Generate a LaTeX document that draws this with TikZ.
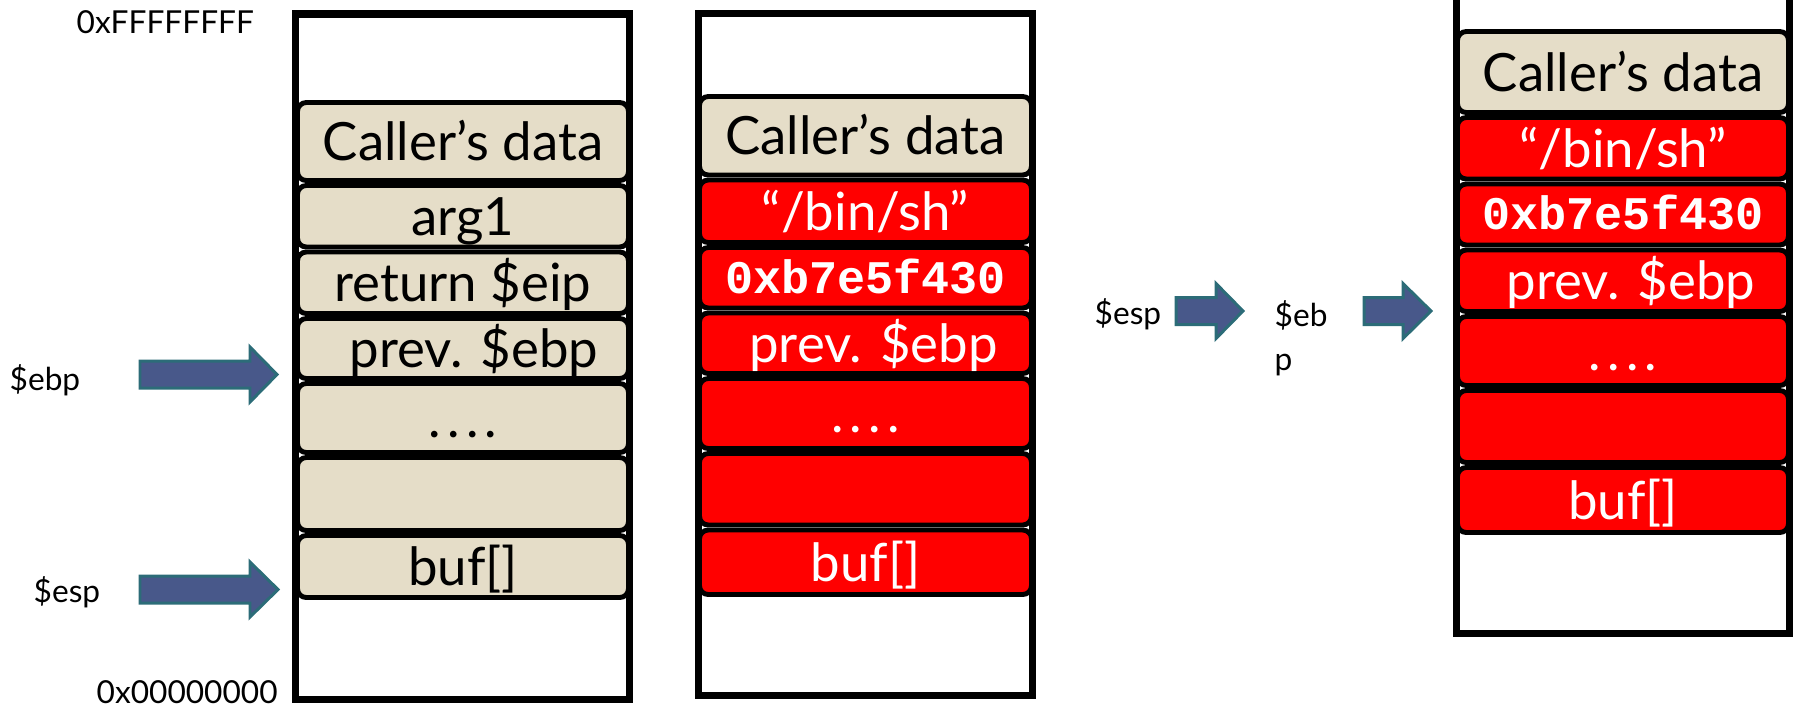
\documentclass[tikz,border=0pt]{standalone}
\usepackage{fontspec}
\setmainfont{Lato}
\newfontfamily\codefont{Liberation Mono}
\definecolor{tanc}{RGB}{229,221,200}
\definecolor{ptrfill}{RGB}{72,88,138}
\definecolor{ptredge}{RGB}{44,108,120}
\newcommand\ptrarrow[4]{% tail x, head base x, tip x, centre y
  \draw[ptr] (#1,#4-13.5) -- (#2,#4-13.5) -- (#2,#4-27.5) -- (#3,#4)
    -- (#2,#4+27.5) -- (#2,#4+13.5) -- (#1,#4+13.5) -- cycle;}
% style, name, x1, y1, x2, y2, text  (pixel units)
\newcommand\cell[7]{%
  \node[#1,minimum width={(#5-#3)*0.01cm},minimum height={(#6-#4)*0.01cm}]
    (#2) at ({(#3+#5)/2},{(#4+#6)/2}) {#7};}
\newcommand\dotsfour{.\kern1.8pt.\kern1.8pt.\kern1.8pt.}
\begin{document}
\begin{tikzpicture}[x=0.01cm,y=-0.01cm,
  stackbox/.style={draw=black,line width=2pt,inner sep=0pt,fill=white},
  blk/.style={draw=black,line width=1.4pt,rounded corners=2.5pt,inner sep=0pt,
    font=\fontsize{15}{18}\selectfont,text height=10.8pt,text depth=0pt},
  tanblk/.style={blk,fill=tanc,text=black},
  redblk/.style={blk,fill=red,text=white},
  codeblk/.style={redblk,font=\codefont\bfseries\fontsize{13.3}{16}\selectfont,text height=8.7pt},
  lbl/.style={inner sep=0pt,font=\fontsize{9}{12.5}\selectfont},
  ptr/.style={fill=ptrfill,draw=ptredge,line width=0.85pt,line join=miter}]
\useasboundingbox (0,0) rectangle (1796,714);
\clip (0,0) rectangle (1796,714);

% ---------- stack 1 ----------
\cell{stackbox}{s1}{295.5}{14}{629.5}{699.5}{}
\cell{tanblk}{s1c}{297.5}{102.5}{628.5}{180.5}{Caller’s data}
\cell{tanblk}{s1a}{297.5}{185.5}{628.5}{247}{arg1}
\cell{tanblk}{s1r}{297.5}{252}{628.5}{313.5}{return \$eip}
\cell{tanblk}{s1p}{297.5}{318.5}{628.5}{378.5}{\hspace*{0.22cm}prev. \$ebp}
\cell{tanblk}{s1d}{297.5}{383.5}{628.5}{452.5}{\dotsfour}
\cell{tanblk}{s1e}{297.5}{457.5}{628.5}{530.5}{}
\cell{tanblk}{s1b}{297.5}{535.5}{628.5}{597.5}{buf[]}

% ---------- stack 2 ----------
\cell{stackbox}{s2}{698.5}{13.5}{1032.5}{695.5}{}
\cell{tanblk}{s2c}{699.5}{96.5}{1031.5}{175}{Caller’s data}
\cell{redblk}{s2s}{699.5}{180}{1031.5}{242.5}{“/bin/sh”}
\cell{codeblk}{s2x}{699.5}{247.5}{1031.5}{308}{0xb7e5f430}
\cell{redblk}{s2p}{699.5}{313}{1031.5}{373.5}{\hspace*{0.16cm}prev. \$ebp}
\cell{redblk}{s2d}{699.5}{378.5}{1031.5}{448.5}{\dotsfour}
\cell{redblk}{s2e}{699.5}{453.5}{1031.5}{525}{}
\cell{redblk}{s2b}{699.5}{530}{1031.5}{594.5}{buf[]}

% ---------- stack 3 ----------
\cell{stackbox}{s3}{1456.5}{-20}{1789.5}{633.5}{}
\cell{tanblk}{s3c}{1457.5}{31.5}{1788.5}{112.5}{Caller’s data}
\cell{redblk}{s3s}{1457.5}{117.5}{1788.5}{179}{“/bin/sh”}
\cell{codeblk}{s3x}{1457.5}{184}{1788.5}{245}{0xb7e5f430}
\cell{redblk}{s3p}{1457.5}{250}{1788.5}{311.5}{\hspace*{0.16cm}prev. \$ebp}
\cell{redblk}{s3d}{1457.5}{316.5}{1788.5}{385.5}{\dotsfour}
\cell{redblk}{s3e}{1457.5}{390.5}{1788.5}{462.5}{}
\cell{redblk}{s3b}{1457.5}{467.5}{1788.5}{532.5}{buf[]}

% ---------- labels ----------
\node[lbl,anchor=base west] (hi) at (76,33) {0xFFFFFFFF};
\node[lbl,anchor=base west] (lo) at (96,703) {0x00000000};
\node[lbl,anchor=base west] (ebp1) at (9,390) {\$ebp};
\node[lbl,anchor=base west] (esp1) at (33,602) {\$esp};
\node[lbl,anchor=base west] (esp2) at (1094,324) {\$esp};
\node[lbl,anchor=base west,align=left] (ebp2) at (1274,370) {\$eb\\p};

% ---------- pointer arrows ----------
\ptrarrow{140}{250}{277}{374.5}
\ptrarrow{140}{250}{278}{589.5}
\ptrarrow{1176}{1216}{1243}{311}
\ptrarrow{1364}{1403}{1431}{311}
\end{tikzpicture}
\end{document}
